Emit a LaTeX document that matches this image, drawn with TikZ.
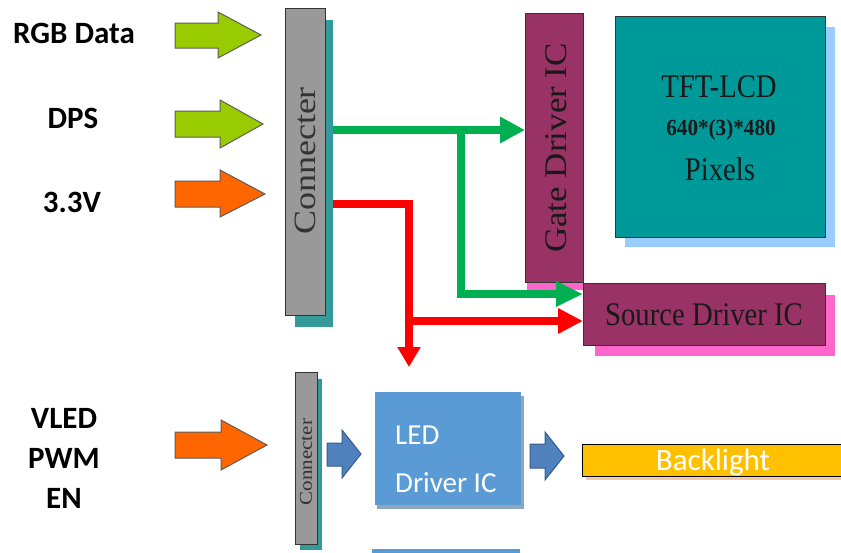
\documentclass[tikz,border=0pt]{standalone}
\usepackage{graphicx}
\usepackage{fontspec}
\usetikzlibrary{arrows.meta}
\newfontfamily\calib{Carlito}
\newfontfamily\tnr{Liberation Serif}
\definecolor{conngray}{HTML}{999999}
\definecolor{connshad}{HTML}{339999}
\definecolor{maroon}{HTML}{993366}
\definecolor{pinkshad}{HTML}{FF66CC}
\definecolor{tft}{HTML}{009999}
\definecolor{tftshad}{HTML}{99CCFF}
\definecolor{gline}{HTML}{00B050}
\definecolor{rline}{HTML}{FF0000}
\definecolor{lime}{HTML}{99CC00}
\definecolor{orng}{HTML}{FF6600}
\definecolor{ledblue}{HTML}{5B9BD5}
\definecolor{ledshad}{HTML}{8FA6BF}
\definecolor{barrow}{HTML}{4F81BD}
\definecolor{barrowb}{HTML}{385D8A}
\definecolor{blight}{HTML}{FFC000}
\definecolor{blshad}{HTML}{F6C8A8}
\definecolor{edge}{HTML}{333333}
\tikzset{
  box/.style={draw=edge, line width=0.8pt, inner sep=0pt, outer sep=0pt},
  shadowbox/.style={inner sep=0pt, outer sep=0pt},
  lbl/.style={font=\calib\bfseries\fontsize{31}{36}\selectfont, anchor=base, inner sep=0pt},
  serif/.style={font=\tnr\fontsize{33}{38}\selectfont, inner sep=0pt, text=black!90},
  greenline/.style={draw=gline, line width=8pt, -{Triangle[length=25pt,width=25pt]}},
  redline/.style={draw=rline, line width=8pt, -{Triangle[length=25pt,width=24pt]}},
  blockarrow/.style={draw=edge!80, line width=1pt, line join=miter},
  bluearrow/.style={fill=barrow, draw=barrowb, line width=1pt},
}
\begin{document}
\begin{tikzpicture}[x=1pt,y=-1pt]
\useasboundingbox (0,0) rectangle (841,552);
\fill[white] (0,0) rectangle (841,552);

% input labels
\node[lbl] (rgb) at (74,43) {RGB Data};
\node[lbl] (dps) at (73,128) {DPS};
\node[lbl] (v33) at (72,212) {3.3V};
\node[lbl] (vled) at (64,428) {VLED};
\node[lbl] (pwm) at (64,468) {PWM};
\node[lbl] (en) at (64,508) {EN};

% block arrows
\fill[blockarrow, fill=lime] (175,23)--(218,23)--(218,12)--(261,35)--(218,58)--(218,48)--(175,48)--cycle;
\fill[blockarrow, fill=lime] (175,111)--(220,111)--(220,100)--(263,124)--(220,148)--(220,137)--(175,137)--cycle;
\fill[blockarrow, fill=orng] (175,181)--(220,181)--(220,170)--(265,194)--(220,217)--(220,207)--(175,207)--cycle;
\fill[blockarrow, fill=orng] (175,432)--(221,432)--(221,420)--(267,445)--(221,470)--(221,458)--(175,458)--cycle;
\filldraw[bluearrow] (327,443)--(342,443)--(342,430)--(361,454)--(342,478)--(342,466)--(327,466)--cycle;
\filldraw[bluearrow] (530,444)--(545,444)--(545,432)--(564,456)--(545,480)--(545,468)--(530,468)--cycle;

% main connector
\node[shadowbox, fill=connshad, minimum width=38, minimum height=307] (connsh) at (314,173.5) {};
\node[box, fill=conngray, minimum width=40, minimum height=307] (conn) at (305,161.5) {};
\node[font=\tnr\fontsize{36}{40}\selectfont, text=edge, rotate=90, inner sep=0pt] (conntxt) at (305,161) {\scalebox{1}[0.86]{Connecter}};

% gate driver
\node[shadowbox, fill=pinkshad, minimum width=56, minimum height=269] (gatesh) at (555,155.5) {};
\node[box, fill=maroon, minimum width=58, minimum height=269] (gate) at (554,147.5) {};
\node[font=\tnr\fontsize{35}{40}\selectfont, text=black!90, rotate=90, inner sep=0pt] (gatetxt) at (556,148) {\scalebox{1}[0.9]{Gate Driver IC}};

% TFT
\node[shadowbox, fill=tftshad, minimum width=210, minimum height=220] (tftsh) at (730,137) {};
\node[box, fill=tft, minimum width=210, minimum height=221] (tftbox) at (720,126.5) {};
\node[serif, anchor=base] (tfttxt) at (719,97) {\scalebox{0.87}[1]{TFT-LCD}};
\node[font=\tnr\bfseries\fontsize{23}{28}\selectfont, anchor=base, inner sep=0pt, text=black!90] (restxt) at (721,135) {\scalebox{0.92}[1]{640*(3)*480}};
\node[serif, anchor=base] (pixtxt) at (720,180) {\scalebox{0.87}[1]{Pixels}};

% source driver
\node[shadowbox, fill=pinkshad, minimum width=240, minimum height=61] (srcsh) at (715,325.5) {};
\node[box, fill=maroon, minimum width=242, minimum height=62] (src) at (704,314) {};
\node[serif, anchor=base] (srctxt) at (704,325) {\scalebox{0.87}[1]{Source Driver IC}};

% green connections
\coordinate (g0) at (333,130);
\coordinate (gb) at (461,130);
\draw[greenline] (g0) -- (gate.west |- g0);
\draw[greenline, -{Triangle[length=27pt,width=24pt]}] (gb) |- ([yshift=20pt]src.west);

% red connections
\coordinate (r0) at (333,204);
\coordinate (rb) at (409,321);
\coordinate (rdown) at (409,367);
\draw[redline, -{Triangle[length=20pt,width=22pt]}] (r0) -| (rdown);
\draw[redline] (rb) -- ([yshift=-7pt]src.west);

% small connector
\node[shadowbox, fill=connshad, minimum width=22, minimum height=171] (sconnsh) at (311,464.5) {};
\node[box, fill=conngray, minimum width=22, minimum height=172] (sconn) at (306,458) {};
\node[font=\tnr\fontsize{21}{24}\selectfont, text=edge, rotate=90, inner sep=0pt] (sconntxt) at (306,462) {\scalebox{1}[0.86]{Connecter}};

% LED driver
\node[shadowbox, fill=ledshad, minimum width=147, minimum height=113] (ledsh) at (450.5,452.5) {};
\node[shadowbox, fill=ledblue, minimum width=146, minimum height=113] (led) at (448,448.5) {};
\node[font=\calib\fontsize{29}{34}\selectfont, text=white, anchor=base west, inner sep=0pt] (ledtxt1) at (395,444) {LED};
\node[font=\calib\fontsize{29}{34}\selectfont, text=white, anchor=base west, inner sep=0pt] (ledtxt2) at (395,492) {Driver IC};

% backlight
\node[shadowbox, fill=blshad, minimum width=257, minimum height=32] (blsh) at (714,464) {};
\node[box, draw=black, fill=blight, minimum width=260, minimum height=32] (bl) at (712,460) {};
\node[font=\calib\fontsize{31}{36}\selectfont, text=white, anchor=base, inner sep=0pt] (bltxt) at (713,470) {Backlight};

% cut-off box at bottom
\fill[ledblue] (372,549) rectangle (520,553);
\end{tikzpicture}
\end{document}
